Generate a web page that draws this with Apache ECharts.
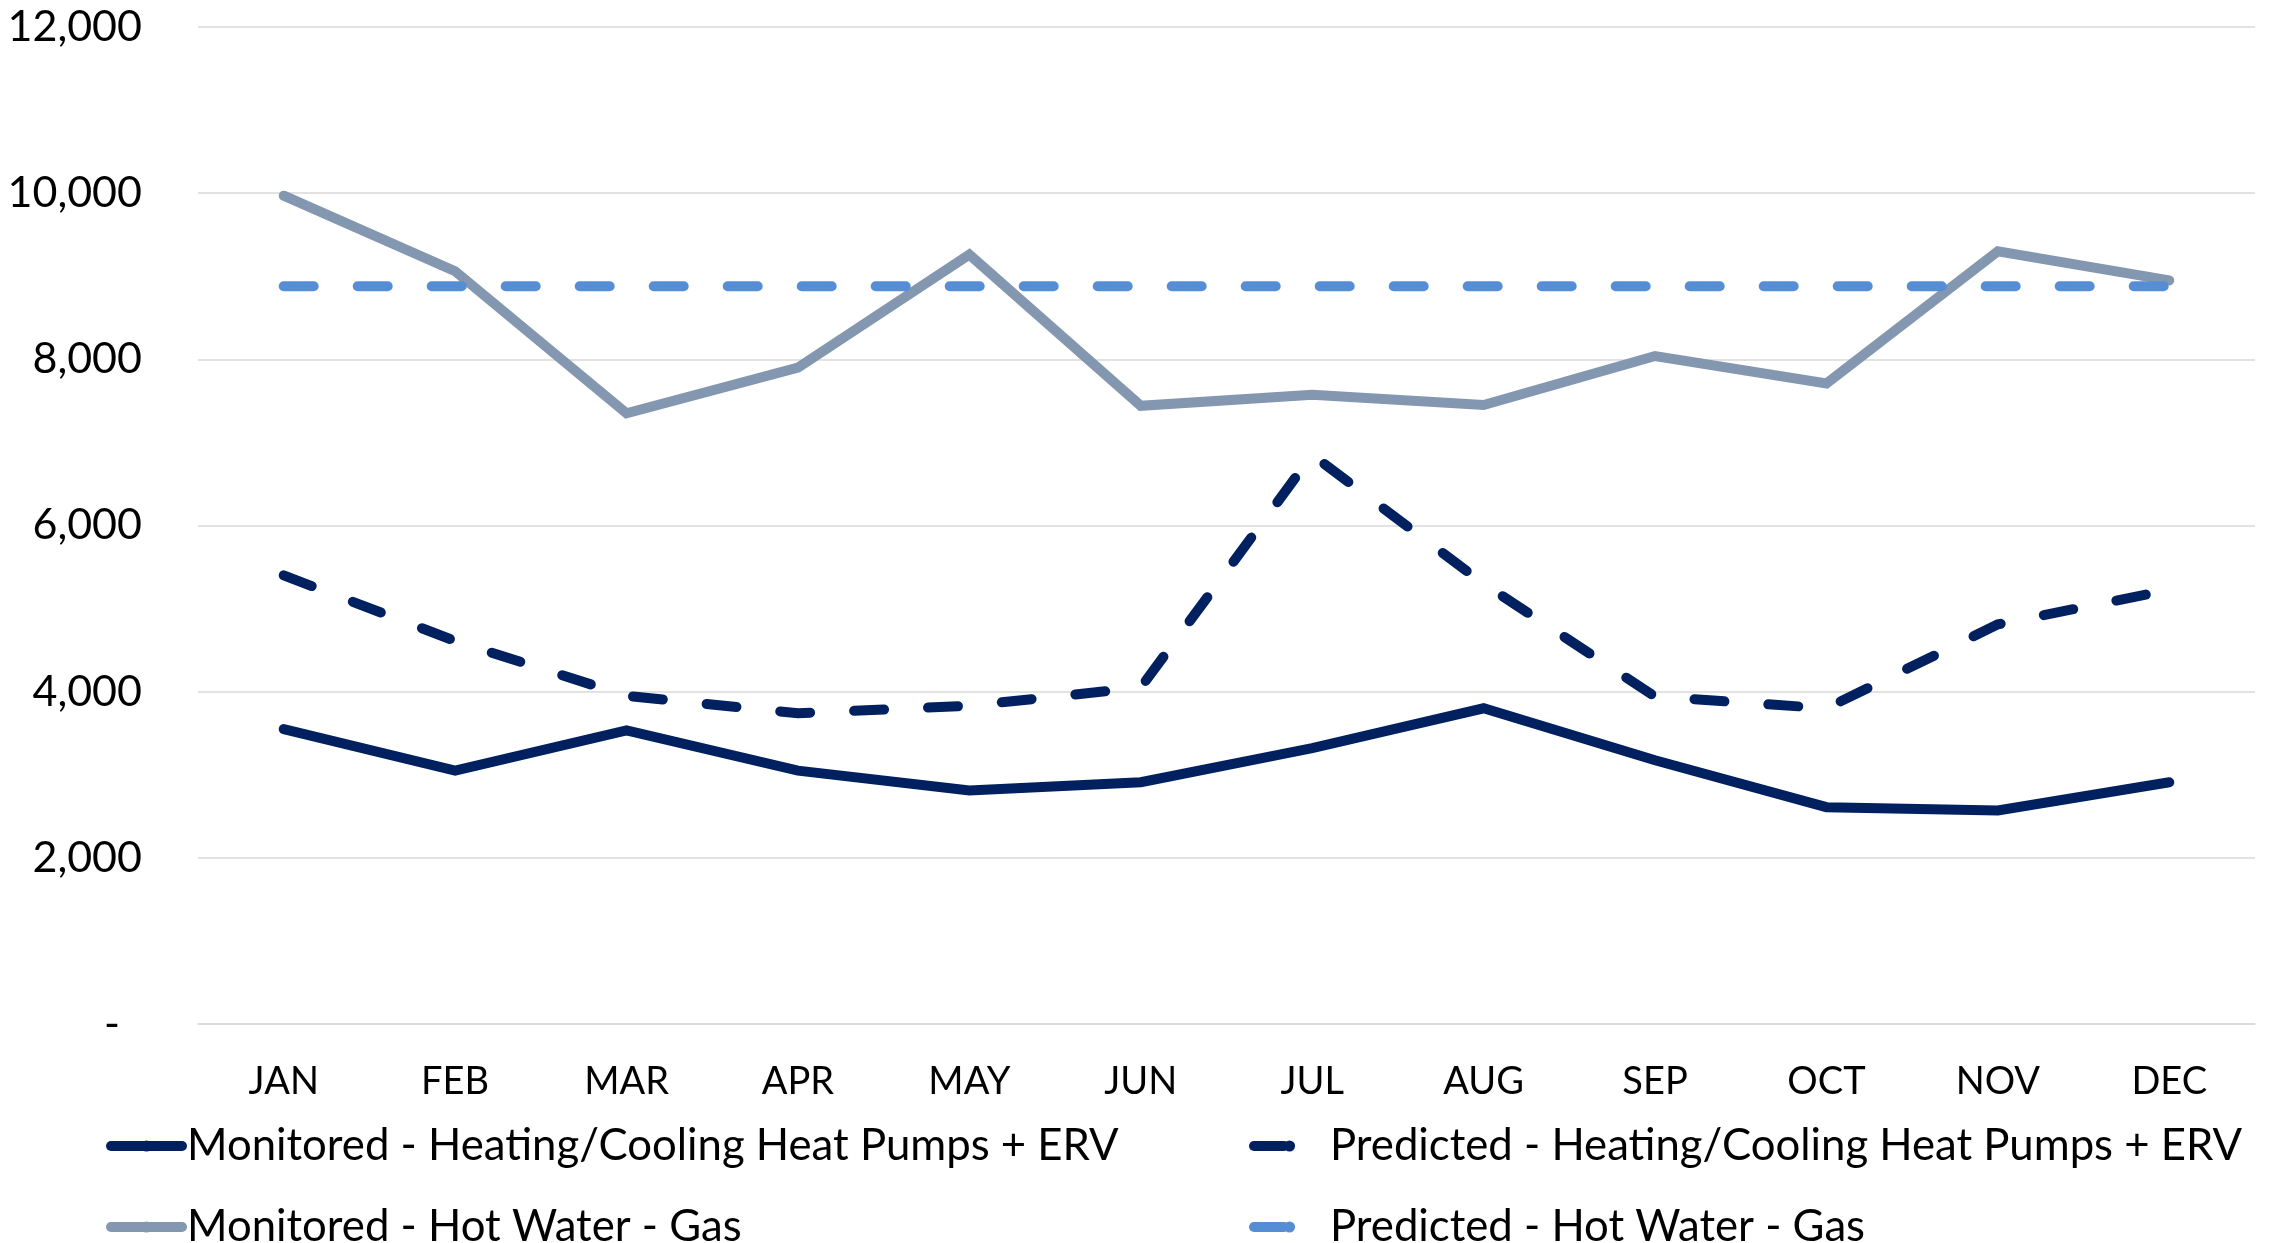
<!DOCTYPE html>
<html>
<head>
<meta charset="utf-8">
<script src="https://cdn.jsdelivr.net/npm/echarts@6/dist/echarts.min.js"></script>
<style>
  html, body { margin: 0; padding: 0; background: #ffffff; }
  #chart { width: 2271px; height: 1243px; }
</style>
</head>
<body>
<div id="chart"></div>
<script>
// ---- data ----
const months = ['JAN','FEB','MAR','APR','MAY','JUN','JUL','AUG','SEP','OCT','NOV','DEC'];
const monitoredHeatPumps = [3550, 3050, 3535, 3050, 2810, 2910, 3320, 3800, 3175, 2610, 2570, 2910];
const predictedHeatPumps = [5400, 4610, 3950, 3740, 3830, 4050, 6850, 5300, 3940, 3800, 4810, 5225];
const monitoredHotWater = [9970, 9060, 7350, 7900, 9260, 7440, 7575, 7450, 8040, 7710, 9300, 8950];
const predictedHotWater = [8880, 8880, 8880, 8880, 8880, 8880, 8880, 8880, 8880, 8880, 8880, 8880];
const seriesNames = [
  'Monitored - Heating/Cooling Heat Pumps + ERV',
  'Predicted - Heating/Cooling Heat Pumps + ERV',
  'Monitored - Hot Water - Gas',
  'Predicted - Hot Water - Gas'
];
const yTicks = { min: 0, max: 12000, interval: 2000 };

const FONT = 'Lato';
const DASH = [30, 44];
const chart = echarts.init(document.getElementById('chart'), null, { renderer: 'canvas' });

function lineSeries(name, data, color, dashed, z) {
  return {
    name: name,
    type: 'line',
    data: data,
    symbol: 'none',
    z: z,
    lineStyle: {
      color: color,
      width: 10,
      cap: 'round',
      join: 'miter',
      type: dashed ? DASH : 'solid'
    },
    itemStyle: { color: color },
    emphasis: { disabled: true },
    animation: false
  };
}

const legendText = { fontFamily: FONT, fontSize: 43.7, color: '#000000', lineHeight: 50 };

function legendItem(name, left, top, dashed) {
  return {
    data: [name],
    orient: 'horizontal',
    left: left, top: top,
    padding: 0,
    itemWidth: 71, itemHeight: 14,
    textStyle: legendText,
    lineStyle: { width: 10, cap: 'round', type: dashed ? DASH : 'solid' },
    selectedMode: false
  };
}

chart.setOption({
  backgroundColor: '#ffffff',
  animation: false,
  grid: { left: 198, right: 16, top: 27, bottom: 219, containLabel: false },
  xAxis: {
    type: 'category',
    data: months,
    boundaryGap: true,
    axisLine: { show: true, lineStyle: { color: '#d9d9d9', width: 1.5 } },
    axisTick: { show: false },
    axisLabel: { fontFamily: FONT, fontSize: 38, color: '#000000', margin: 39 }
  },
  yAxis: {
    type: 'value',
    min: yTicks.min,
    max: yTicks.max,
    interval: yTicks.interval,
    axisLine: { show: false },
    axisTick: { show: false },
    splitLine: { lineStyle: { color: '#d9d9d9', width: 1.5 } },
    axisLabel: {
      fontFamily: FONT, fontSize: 43, color: '#000000', margin: 56,
      formatter: function (v) { return v === 0 ? '-  ' : v.toLocaleString('en-US'); }
    }
  },
  legend: [
    legendItem(seriesNames[0], 106, 1121, false),
    legendItem(seriesNames[2], 106, 1202, false),
    legendItem(seriesNames[1], 1249, 1121, true),
    legendItem(seriesNames[3], 1249, 1202, true)
  ],
  series: [
    lineSeries(seriesNames[0], monitoredHeatPumps, '#002060', false, 3),
    lineSeries(seriesNames[1], predictedHeatPumps, '#002060', true, 4),
    lineSeries(seriesNames[2], monitoredHotWater, '#8497B0', false, 5),
    lineSeries(seriesNames[3], predictedHotWater, '#558ED5', true, 6)
  ]
});
</script>
</body>
</html>
